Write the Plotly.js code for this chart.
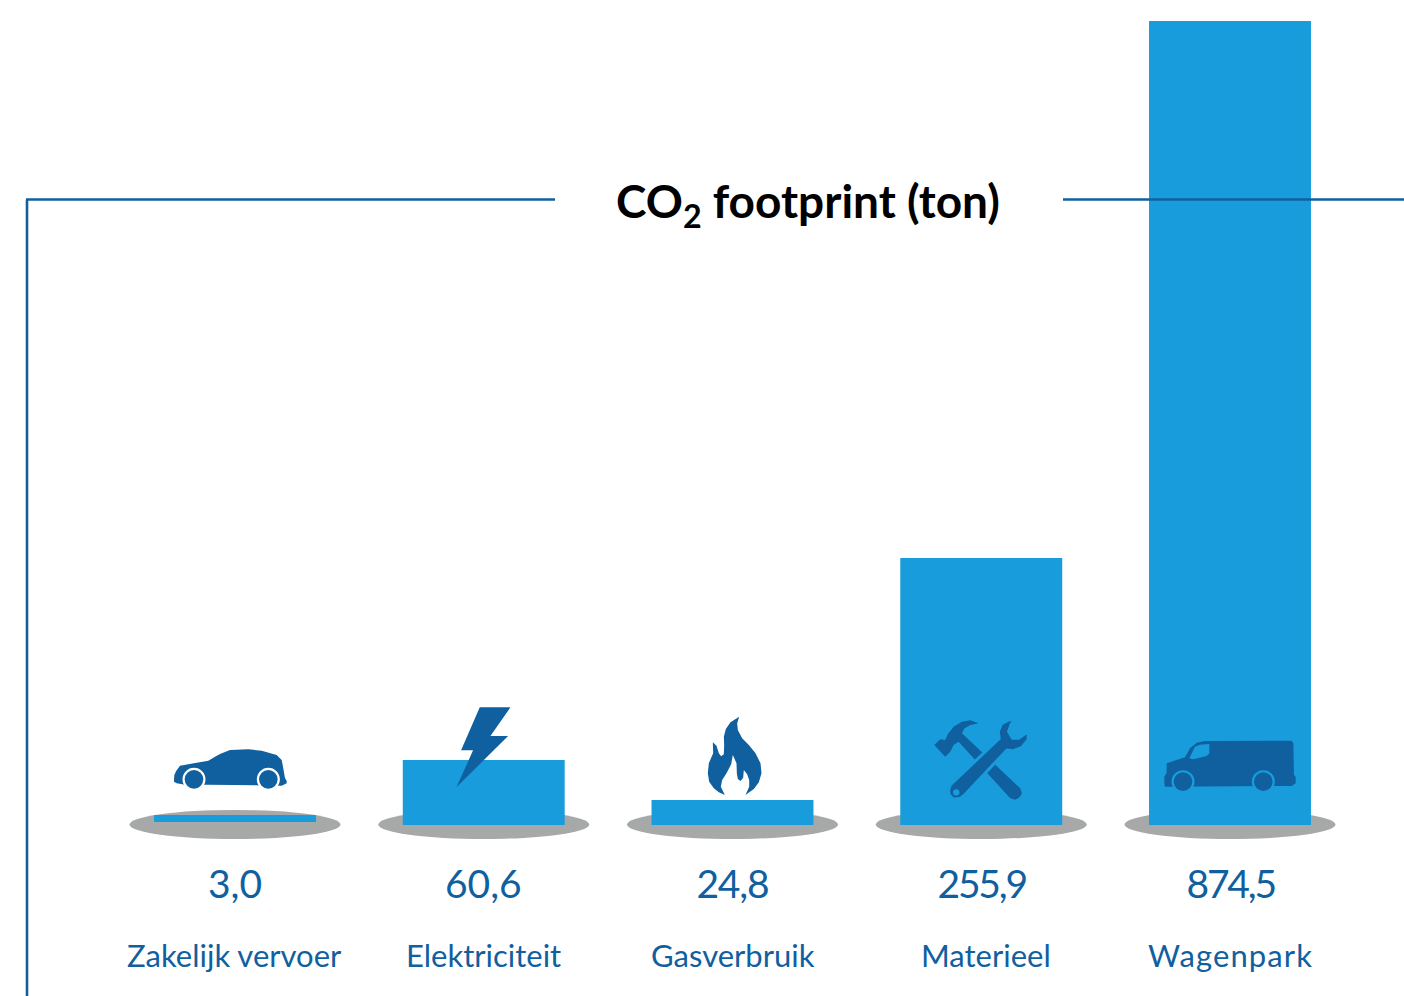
<!DOCTYPE html>
<html>
<head>
<meta charset="utf-8">
<script src="https://cdn.plot.ly/plotly-3.0.1.min.js"></script>
<style>
html,body{margin:0;padding:0;background:#fff;overflow:hidden}
#chart{width:1404px;height:996px}
.annotation[data-index="4"] .annotation-text{letter-spacing:-1.2px}
.annotation[data-index="6"] .annotation-text{letter-spacing:-2.2px}
.annotation[data-index="8"] .annotation-text{letter-spacing:-2.2px}
.annotation[data-index="9"] .annotation-text{letter-spacing:1.1px}
</style>
</head>
<body>
<div id="chart"></div>
<script>
// Data
const categories = ['Zakelijk vervoer', 'Elektriciteit', 'Gasverbruik', 'Materieel', 'Wagenpark'];
const printedValues = [3.0, 60.6, 24.8, 255.9, 874.5];
// The source graphic is not drawn to scale: bar lengths as measured on it
const barLengths = [7, 65, 25, 267, 804];
const barBases = [3, 0, 0, 0, 0];

const BLUE = '#189cdb', DARK = '#10609f', GREY = '#a7a9a9', FONT = 'Lato, sans-serif';

// Icon outlines: points from 3x crops; dx/top place the crop relative to bar centre and baseline
function poly(cat, dx, top, pts, fill, line) {
  const path = pts.map((p, i) => (i ? 'L' : 'M') + (dx + p[0] / 3).toFixed(2) + ',' + (top - p[1] / 3).toFixed(2)).join(' ') + ' Z';
  return {type: 'path', path, xref: 'x', yref: 'y', xsizemode: 'pixel', ysizemode: 'pixel',
    xanchor: cat, yanchor: 0, fillcolor: fill, line: line || {width: 0}, layer: 'above'};
}
function disc(cat, dx, top, zx, zy, r, fill) {
  const cx = dx + zx / 3, cy = top - zy / 3;
  return {type: 'circle', xref: 'x', yref: 'y', xsizemode: 'pixel', ysizemode: 'pixel', xanchor: cat, yanchor: 0,
    x0: cx - r, x1: cx + r, y0: cy - r, y1: cy + r, fillcolor: fill, line: {width: 0}, layer: 'above'};
}

const shapes = [];
categories.forEach(c => shapes.push({type: 'circle', xref: 'x', yref: 'y', xsizemode: 'pixel', ysizemode: 'pixel',
  xanchor: c, yanchor: 0, x0: -105.5, x1: 105.5, y0: -14, y1: 15, fillcolor: GREY, line: {width: 0}, layer: 'below'}));

// Car
shapes.push(poly(categories[0], -70, 85, [[27,118],[28,105],[34,92],[45,77],[130,62],[150,50],[165,42],[195,30],[250,28],[290,32],[335,45],[350,60],[354,80],[360,115],[365,122],[365,130],[350,137],[130,134],[60,134],[35,130],[27,125]], DARK));
shapes.push(disc(categories[0], -70, 85, 87, 118, 11.5, '#ffffff'));
shapes.push(disc(categories[0], -70, 85, 310, 118, 11.5, '#ffffff'));
shapes.push(disc(categories[0], -70, 85, 87, 118, 9.3, DARK));
shapes.push(disc(categories[0], -70, 85, 310, 118, 9.3, DARK));

// Lightning bolt
shapes.push(poly(categories[1], -4, 118, [[0,1],[92,1],[32,87],[85,87],[-70,241],[-20,130],[-56,130]], DARK));

// Flame
shapes.push(poly(categories[2], -42, 120, [[103,270],[85,262],[70,250],[56,230],[52,205],[55,175],[68,145],[67,112],[78,122],[85,145],[92,154],[100,148],[101,120],[100,95],[106,72],[120,52],[146,35],[140,55],[142,75],[155,100],[175,120],[195,145],[210,175],[213,205],[205,232],[190,252],[165,270],[176,245],[176,225],[170,208],[160,195],[158,218],[150,228],[142,222],[139,205],[138,175],[127,150],[122,178],[108,205],[95,225],[91,245]], DARK));

// Hammer, then wrench with a gap in the bar colour
shapes.push(poly(categories[3], -56, 115, [[27,105],[45,88],[60,90],[68,72],[85,50],[110,35],[135,31],[160,40],[135,45],[118,55],[110,70],[285,235],[290,250],[283,262],[270,269],[255,265],[100,95],[85,105],[75,125],[60,140]], DARK));
shapes.push(poly(categories[3], -56, 115, [[70,240],[75,225],[222,85],[219,65],[228,42],[250,30],[275,30],[258,42],[250,65],[262,85],[280,85],[298,72],[310,65],[308,90],[290,112],[265,122],[245,120],[118,255],[105,265],[85,268],[72,255]], DARK, {color: BLUE, width: 3}));
shapes.push(disc(categories[3], -56, 115, 93, 247, 3.2, BLUE));

// Van
shapes.push(poly(categories[4], -75, 95, [[28,140],[35,128],[35,100],[90,82],[105,55],[125,38],[150,33],[410,32],[415,40],[417,135],[422,140],[422,160],[410,168],[30,170],[28,160]], DARK));
shapes.push(poly(categories[4], -75, 95, [[103,85],[120,50],[135,44],[163,42],[163,70],[155,78],[115,88]], BLUE));
shapes.push(disc(categories[4], -75, 95, 84, 155, 11.5, BLUE));
shapes.push(disc(categories[4], -75, 95, 325, 155, 11.5, BLUE));
shapes.push(disc(categories[4], -75, 95, 84, 155, 9.3, DARK));
shapes.push(disc(categories[4], -75, 95, 325, 155, 9.3, DARK));

// Title frame
const px = v => v / 1404, py = v => 1 - v / 996;
[[27, 996, 27, 199.5], [26, 199.5, 555, 199.5], [1063, 199.5, 1404, 199.5]].forEach(s => shapes.push({
  type: 'line', xref: 'paper', yref: 'paper', x0: px(s[0]), y0: py(s[1]), x1: px(s[2]), y1: py(s[3]),
  line: {color: DARK, width: 2.6}, layer: 'above'}));

const labelShift = [-1, 0, 0, 5, 0];
const annotations = [];
categories.forEach((c, i) => {
  annotations.push({x: c, y: -58, xref: 'x', yref: 'y', showarrow: false, yanchor: 'middle', xanchor: 'center',
    text: printedValues[i].toFixed(1).replace('.', ','), font: {family: FONT, size: 39, color: DARK}});
  annotations.push({x: c, y: -130, xref: 'x', yref: 'y', xshift: labelShift[i], showarrow: false, yanchor: 'middle', xanchor: 'center',
    text: c, font: {family: FONT, size: 31, color: DARK}});
});
annotations.push({x: px(808), y: py(204), xref: 'paper', yref: 'paper', showarrow: false, xanchor: 'center', yanchor: 'middle',
  text: '<b>CO<sub>2</sub> footprint (ton)</b>', font: {family: FONT, size: 46, color: '#000000'}});

Plotly.newPlot('chart', [{
  type: 'bar', x: categories, y: barLengths, base: barBases, width: 0.651,
  marker: {color: BLUE, line: {width: 0}}, hoverinfo: 'skip'
}], {
  width: 1404, height: 996, margin: {l: 0, r: 0, t: 0, b: 0, pad: 0},
  paper_bgcolor: '#ffffff', plot_bgcolor: '#ffffff', showlegend: false,
  xaxis: {type: 'category', categoryarray: categories, categoryorder: 'array', range: [-0.9447, 4.6995], visible: false, fixedrange: true},
  yaxis: {range: [-171, 825], visible: false, fixedrange: true, zeroline: false},
  shapes, annotations
}, {displayModeBar: false, staticPlot: true});
</script>
</body>
</html>
